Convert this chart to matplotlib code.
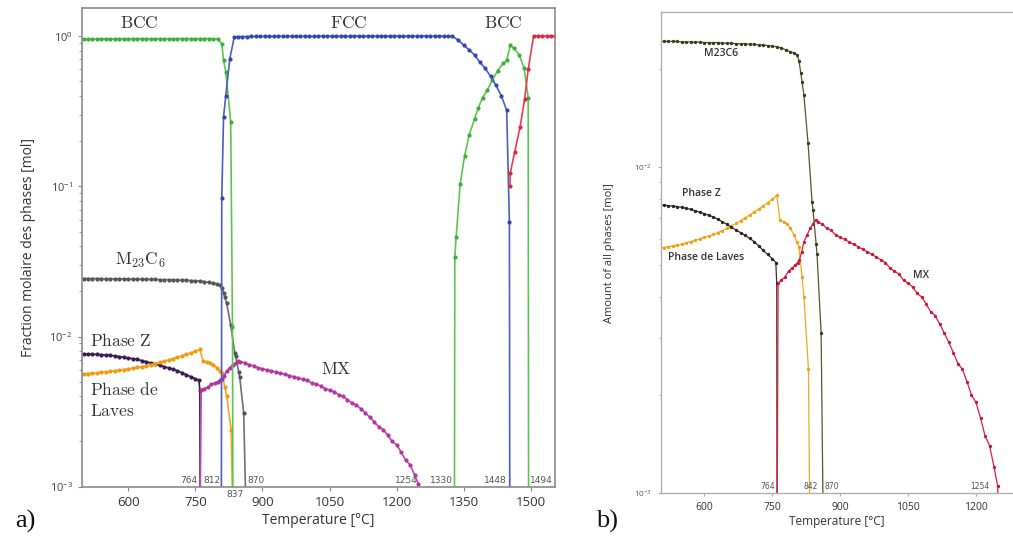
import matplotlib
matplotlib.use('Agg')
import matplotlib.pyplot as plt
from matplotlib.ticker import LogLocator, NullFormatter

plt.rcParams['font.family'] = ['Open Sans', 'DejaVu Sans']
plt.rcParams['mathtext.fontset'] = 'cm'

# value used where a phase vanishes (below the 1e-3 axis floor)
GONE = 4e-4

# ---- matrix phases (panel a only) ----
t_bcc_lo = list(range(490, 810, 10)) + [809, 813, 818, 829, 833, 834]
bcc_lo = [0.955, 0.955, 0.956, 0.956, 0.956, 0.957, 0.957, 0.957, 0.958, 0.958,
          0.958, 0.959, 0.959, 0.959, 0.960, 0.960, 0.960, 0.960, 0.961, 0.961,
          0.961, 0.961, 0.962, 0.962, 0.962, 0.962, 0.962, 0.962, 0.962, 0.962,
          0.960, 0.955] + [0.89, 0.69, 0.58, 0.27, 0.0115, GONE]

t_fcc = [808, 809, 813, 818, 827, 837] + list(range(845, 1325, 10)) + \
        [1324, 1338, 1350, 1362, 1374, 1386, 1398, 1410, 1422, 1434, 1446, 1452, 1453]
fcc = [GONE, 0.083, 0.29, 0.40, 0.71, 0.99] + \
      [0.992, 0.993, 0.994, 0.995, 0.995, 0.996, 0.996, 0.996, 0.997, 0.997,
       0.997, 0.997, 0.998, 0.998, 0.998, 0.998, 0.998, 0.998, 0.999, 0.999,
       0.999, 0.999, 0.999, 0.999, 0.999, 0.999, 1.0, 1.0, 1.0, 1.0,
       1.0, 1.0, 1.0, 1.0, 1.0, 1.0, 1.0, 1.0, 1.0, 1.0,
       1.0, 1.0, 1.0, 1.0, 1.0, 1.0, 1.0, 1.0] + \
      [1.0, 0.94, 0.87, 0.81, 0.75, 0.67, 0.61, 0.54, 0.47, 0.40, 0.32, 0.058, GONE]

t_bcc_hi = [1329, 1330, 1333, 1342, 1352, 1362, 1374, 1382, 1392, 1403, 1414,
            1426, 1438, 1446, 1454, 1462, 1474, 1485, 1494, 1495]
bcc_hi = [GONE, 0.034, 0.046, 0.104, 0.16, 0.22, 0.28, 0.33, 0.39, 0.44, 0.51,
          0.59, 0.66, 0.69, 0.87, 0.83, 0.75, 0.61, 0.39, GONE]

t_liq = [1453, 1454, 1464, 1476, 1486, 1494, 1506, 1515, 1525, 1535, 1545, 1555]
liq = [0.10, 0.123, 0.17, 0.25, 0.38, 0.60, 1.0, 1.0, 1.0, 1.0, 1.0, 1.0]

# ---- precipitates (both panels) ----
t_m23 = list(range(490, 760, 10)) + [760, 770, 780, 790, 798, 805, 809, 813, 816,
                                     820, 829, 838, 840, 847, 849, 858, 865]
m23 = [0.0243, 0.0243, 0.0243, 0.0243, 0.0243, 0.0243, 0.0242, 0.0242, 0.0242,
       0.0242, 0.0242, 0.0241, 0.0241, 0.0241, 0.0241, 0.0240, 0.0240, 0.0240,
       0.0239, 0.0239, 0.0239, 0.0238, 0.0238, 0.0237, 0.0237, 0.0236, 0.0235] + \
      [0.0234, 0.0232, 0.0229, 0.0226, 0.0224, 0.0221, 0.0212, 0.0195, 0.0182,
       0.0166, 0.0119, 0.0078, 0.0074, 0.0058, 0.0054, 0.0031, GONE]

t_z = list(range(490, 760, 10)) + [758, 760, 761]
phase_z = [0.00770, 0.00768, 0.00765, 0.00762, 0.00760, 0.00757, 0.00753, 0.00748,
           0.00742, 0.00735, 0.00728, 0.00720, 0.00712, 0.00703, 0.00692, 0.00680,
           0.00668, 0.00654, 0.00642, 0.00630, 0.00618, 0.00605, 0.00591, 0.00574,
           0.00556, 0.00540, 0.00524] + [0.00510, 0.00440, GONE]

t_laves = list(range(490, 770, 10)) + [767, 775, 783, 790, 798, 804, 809, 816, 820, 830, 835]
laves = [0.00563, 0.00565, 0.00567, 0.00570, 0.00573, 0.00577, 0.00581, 0.00586,
         0.00591, 0.00597, 0.00603, 0.00609, 0.00615, 0.00622, 0.00630, 0.00639,
         0.00649, 0.00660, 0.00672, 0.00685, 0.00699, 0.00713, 0.00728, 0.00744,
         0.00760, 0.00778, 0.00797, 0.00820] + \
        [0.0069, 0.0068, 0.0067, 0.0065, 0.0062, 0.0059, 0.0057, 0.0046, 0.0040, 0.0024, GONE]

t_mx = [760, 763, 770, 778, 786, 794, 800, 806, 810, 815, 820, 827, 834, 840, 846] + \
       list(range(850, 1250, 10)) + [1248, 1250]
mx = [GONE, 0.0044, 0.0045, 0.0046, 0.0048, 0.0049, 0.0050, 0.0051, 0.0052, 0.0055,
      0.0059, 0.0062, 0.0065, 0.0067, 0.0069] + \
     [0.0068, 0.0067, 0.0065, 0.0064, 0.0062, 0.0061, 0.0060, 0.0059, 0.0058, 0.0057,
      0.0056, 0.0055, 0.0054, 0.0053, 0.0052, 0.0051, 0.0049, 0.0048, 0.0047, 0.0045,
      0.0044, 0.0043, 0.0041, 0.0040, 0.0038, 0.0036, 0.0035, 0.0033, 0.0031, 0.0029,
      0.0027, 0.0025, 0.0024, 0.0022, 0.0020, 0.0019, 0.0017, 0.0015, 0.0014, 0.0012] + \
     [0.00105, GONE]

# temperature marks written along the bottom
marks_a = [('764', 755, 'right', 'in'), ('812', 806, 'right', 'in'), ('837', 838, 'center', 'out'),
           ('870', 867, 'left', 'in'), ('1254', 1246, 'right', 'in'), ('1330', 1325, 'right', 'in'),
           ('1448', 1446, 'right', 'in'), ('1494', 1498, 'left', 'in')]
marks_b = [('764', 757, 'right'), ('842', 834, 'center'), ('870', 866, 'left'), ('1254', 1230, 'right')]

fig = plt.figure(figsize=(10.13, 5.41), dpi=100)

# ---------------- panel a ----------------
ax = fig.add_axes([0.0807, 0.1004, 0.4672, 0.8848])
series_a = [
    (t_m23, m23, '#707070', '#555555'),
    (t_z, phase_z, '#3d1a4f', '#3d1a4f'),
    (t_laves, laves, '#f5a623', '#f09a10'),
    (t_mx, mx, '#c444b8', '#b0359f'),
    (t_bcc_lo, bcc_lo, '#5cc552', '#3eae3a'),
    (t_bcc_hi, bcc_hi, '#5cc552', '#3eae3a'),
    (t_fcc, fcc, '#4a5fc0', '#3347a8'),
    (t_liq, liq, '#ea3a50', '#d8283e'),
]
for t, v, lc, mc in series_a:
    ax.plot(t, v, color=lc, lw=1.2, marker='o', ms=3.0, mfc=mc, mec=mc, mew=0)

ax.set_yscale('log')
ax.set_xlim(496, 1554)
ax.set_ylim(1e-3, 1.54)
ax.set_xticks([600, 750, 900, 1050, 1200, 1350, 1500])
ax.yaxis.set_major_locator(LogLocator(base=10, numticks=10))
ax.yaxis.set_minor_locator(LogLocator(base=10, subs=range(2, 10), numticks=10))
ax.yaxis.set_minor_formatter(NullFormatter())
ax.tick_params(axis='x', labelsize=9.5, labelcolor='#333333', color='#888888', length=3)
ax.tick_params(axis='y', which='major', labelsize=8, labelcolor='#444444', color='#888888', length=3)
ax.tick_params(axis='y', which='minor', color='#888888', length=2)
for s in ax.spines.values():
    s.set_color('#8a8a8a')
    s.set_linewidth(1.2)
ax.set_xlabel('Temperature [°C]', fontsize=10, color='#333333', labelpad=3)
ax.set_ylabel('Fraction molaire des phases [mol]', fontsize=10, color='#333333', labelpad=10)

txt = dict(fontsize=12.5, color='#333333', va='center')
ax.text(624, 1.2, r'$\mathrm{BCC}$', ha='center', **txt)
ax.text(1093, 1.2, r'$\mathrm{FCC}$', ha='center', **txt)
ax.text(1438, 1.2, r'$\mathrm{BCC}$', ha='center', **txt)
ax.text(628, 0.032, r'$\mathrm{M_{23}C_6}$', ha='center', **txt)
ax.text(514, 0.0093, r'$\mathrm{Phase\ Z}$', ha='left', **txt)
ax.text(514, 0.00434, r'$\mathrm{Phase\ de}$', ha='left', **txt)
ax.text(514, 0.00313, r'$\mathrm{Laves}$', ha='left', **txt)
ax.text(1065, 0.0060, r'$\mathrm{MX}$', ha='center', **txt)

trans = ax.get_xaxis_transform()
for label, t, ha, side in marks_a:
    if side == 'in':
        ax.text(t, 0.004, label, transform=trans, ha=ha, va='bottom', fontsize=6.5,
                color='#555555', family='DejaVu Sans')
    else:
        ax.text(t, -0.006, label, transform=trans, ha=ha, va='top', fontsize=6.5,
                color='#555555', family='DejaVu Sans')

# ---------------- panel b ----------------
bx = fig.add_axes([0.6522, 0.0882, 0.3478, 0.8896])
series_b = [
    (t_laves, laves, '#f2a81d', '#eea010'),
    (t_z, phase_z, '#3e2e26', '#2e221c'),
    (t_mx, mx, '#d8203f', '#c8183a'),
    (t_m23, m23, '#55552a', '#3a3a18'),
]
for t, v, lc, mc in series_b:
    bx.plot(t, v, color=lc, lw=0.9, marker='o', ms=2.4, mfc=mc, mec=mc, mew=0)

bx.set_yscale('log')
bx.set_xlim(503.7, 1281.7)
bx.set_ylim(1e-3, 0.0299)
bx.set_xticks([600, 750, 900, 1050, 1200])
bx.yaxis.set_minor_locator(LogLocator(base=10, subs=range(2, 10), numticks=10))
bx.yaxis.set_minor_formatter(NullFormatter())
bx.tick_params(axis='x', labelsize=7.5, labelcolor='#333333', color='#aaaaaa', length=2.5)
bx.tick_params(axis='y', which='major', labelsize=6, labelcolor='#555555', color='#aaaaaa', length=2.5)
bx.tick_params(axis='y', which='minor', color='#aaaaaa', length=1.5)
for s in bx.spines.values():
    s.set_color('#b0b0b0')
    s.set_linewidth(1.0)
bx.spines['right'].set_visible(False)
bx.set_xlabel('Temperature [°C]', fontsize=8.5, color='#333333', labelpad=2)
bx.set_ylabel('Amount of all phases [mol]', fontsize=8, color='#333333', labelpad=14)

txt_b = dict(fontsize=7.5, color='#333333', fontweight='semibold', va='center')
bx.text(638, 0.0223, 'M23C6', ha='center', **txt_b)
bx.text(594, 0.0083, 'Phase Z', ha='center', **txt_b)
bx.text(603, 0.00527, 'Phase de Laves', ha='center', **txt_b)
bx.text(1079, 0.00465, 'MX', ha='center', **txt_b)

trans_b = bx.get_xaxis_transform()
for label, t, ha in marks_b:
    bx.text(t, 0.004, label, transform=trans_b, ha=ha, va='bottom', fontsize=5.5,
            color='#555555', family='DejaVu Sans')

fig.text(0.015, 0.025, 'a)', fontsize=19, family='Liberation Serif', color='#111111')
fig.text(0.588, 0.025, 'b)', fontsize=19, family='Liberation Serif', color='#111111')

fig.savefig('out.png', dpi=100)
